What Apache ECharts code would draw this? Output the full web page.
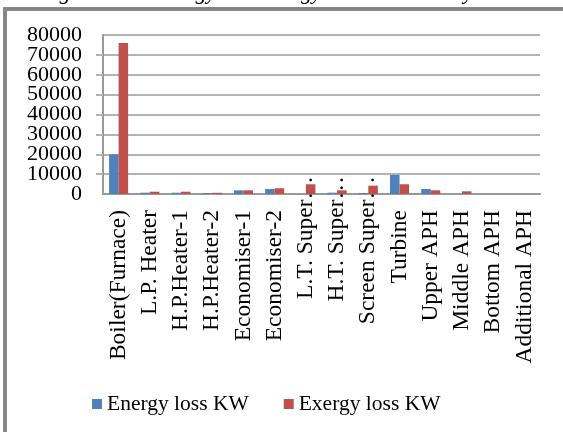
<!DOCTYPE html>
<html>
<head>
<meta charset="utf-8">
<script src="https://cdn.jsdelivr.net/npm/echarts@6/dist/echarts.min.js"></script>
<style>
  html, body { margin: 0; padding: 0; background: #fff; }
  #chart { width: 563px; height: 432px; }
</style>
</head>
<body>
<div id="chart"></div>
<script>
// Components of the plant, in the order they appear along the x axis
const categories = [
  'Boiler(Furnace)', 'L.P. Heater', 'H.P.Heater-1', 'H.P.Heater-2',
  'Economiser-1', 'Economiser-2', 'L.T. Super…', 'H.T. Super…',
  'Screen Super…', 'Turbine', 'Upper APH', 'Middle APH',
  'Bottom APH', 'Additional APH'
];
// Losses per component, KW
const energyLoss = [20000, 650, 650, 500, 1850, 2500, 0, 650, 500, 9600, 2500, 0, 0, 0];
const exergyLoss = [76000, 1150, 1150, 600, 1850, 2900, 4900, 1850, 4200, 4900, 1850, 1350, 0, 0];
const yTicks = { min: 0, max: 80000, interval: 10000 };
const seriesNames = ['Energy loss KW', 'Exergy loss KW'];
const titleText = 'Fig. 5. Total Energy and Exergy losses in each system';

const serif = '"Liberation Serif", "Times New Roman", serif';
const chart = echarts.init(document.getElementById('chart'), null, { renderer: 'canvas' });

// Shortened names let their ellipsis run past the label anchor
const axisData = categories.map(function (name) {
  return name.endsWith('…')
    ? { value: name, textStyle: { padding: [0, -34, 0, 0] } }
    : name;
});

const yLabelFont = { fontFamily: serif, fontSize: 22, color: '#000', margin: 21 };

chart.setOption({
  backgroundColor: '#ffffff',
  animation: false,
  graphic: [
    // caption running off the top edge
    { type: 'text', x: 40, y: -18, silent: true,
      style: { text: titleText, font: 'italic 22px ' + serif, fill: '#000' } },
    // frame around the chart
    { type: 'rect', shape: { x: 3, y: 7, width: 600, height: 4 }, style: { fill: '#868686' }, silent: true },
    { type: 'rect', shape: { x: 3, y: 7, width: 4, height: 440 }, style: { fill: '#868686' }, silent: true }
  ],
  grid: { left: 103, right: 23, top: 35, bottom: 238, containLabel: false },
  legend: {
    data: seriesNames,
    left: 87, top: 388,
    itemWidth: 10, itemHeight: 10, itemGap: 35,
    icon: 'rect',
    textStyle: { fontFamily: serif, fontSize: 21.5, color: '#000' }
  },
  xAxis: {
    type: 'category',
    data: axisData,
    axisLine: { lineStyle: { color: '#999999', width: 2 } },
    axisTick: { show: false },
    axisLabel: {
      rotate: 90, interval: 0, margin: 16,
      fontFamily: serif, fontSize: 23.5, color: '#000'
    }
  },
  yAxis: [
    {
      // main value axis: line, ticks, grid and the inner tick labels
      type: 'value', position: 'left',
      min: yTicks.min, max: yTicks.max, interval: yTicks.interval,
      axisLine: { show: true, lineStyle: { color: '#999999', width: 2 } },
      axisTick: { show: true, length: 7, lineStyle: { color: '#b3b3b3', width: 2 } },
      splitLine: { lineStyle: { color: '#b3b3b3', width: 2 } },
      axisLabel: Object.assign({}, yLabelFont, {
        showMinLabel: false, showMaxLabel: false, hideOverlap: false,
        formatter: function (v) { return String(v); }
      })
    },
    {
      // same scale, carrying only the end labels (0 and 80000)
      type: 'value', position: 'left', offset: 0,
      min: yTicks.min, max: yTicks.max, interval: yTicks.interval,
      axisLine: { show: false }, axisTick: { show: false }, splitLine: { show: false },
      axisLabel: Object.assign({}, yLabelFont, {
        showMinLabel: true, showMaxLabel: true, hideOverlap: false,
        formatter: function (v) {
          return (v === yTicks.min || v === yTicks.max) ? String(v) : '';
        }
      })
    }
  ],
  series: [
    { name: seriesNames[0], type: 'bar', data: energyLoss, barGap: '0%', barCategoryGap: '39%',
      yAxisIndex: 0, itemStyle: { color: '#4f81bd' } },
    { name: seriesNames[1], type: 'bar', data: exergyLoss,
      yAxisIndex: 0, itemStyle: { color: '#c0504d' } }
  ]
});
</script>
</body>
</html>
